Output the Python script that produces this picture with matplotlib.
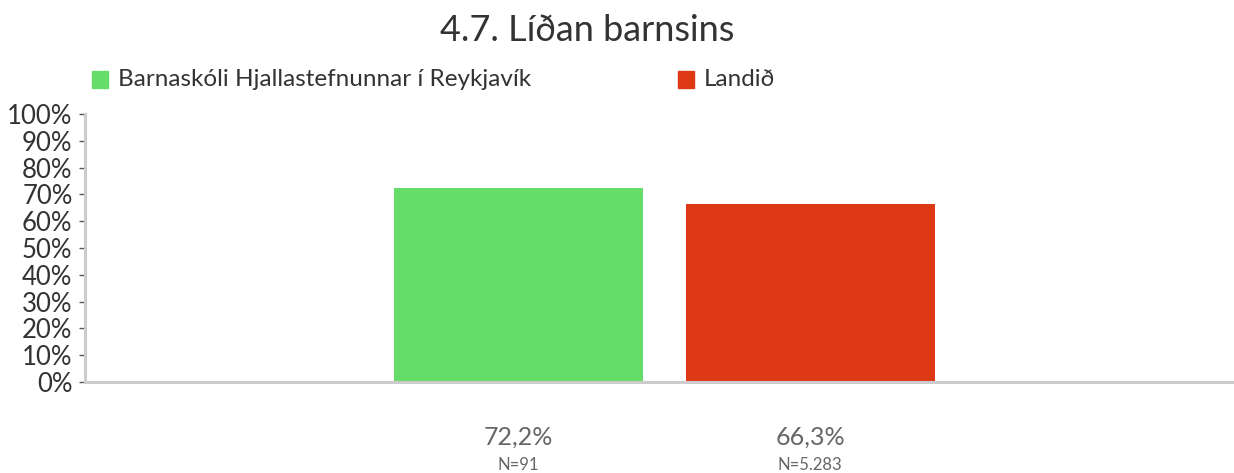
import matplotlib.pyplot as plt

plt.rcParams['font.family'] = ['Lato', 'DejaVu Sans']

# data
series = ['Barnaskóli Hjallastefnunnar í Reykjavík', 'Landið']
values = [72.2, 66.3]
counts = ['N=91', 'N=5.283']
colors = ['#66dc69', '#dd3914']
yticks = [0, 10, 20, 30, 40, 50, 60, 70, 80, 90, 100]

fig = plt.figure(figsize=(12.34, 4.73), dpi=100)
ax = fig.add_axes([0.0689, 0.1924, 0.9303, 0.5666])

pos = [0, 1]
ax.bar(pos, values, width=0.854, color=colors, zorder=2)

ax.set_xlim(-1.487, 2.451)
ax.set_ylim(0, 100)
ax.set_yticks(yticks)
ax.set_yticklabels([f'{t}%' for t in yticks], fontsize=18.5, color='#333333')
ax.tick_params(axis='y', length=4, width=1, color='#555555', pad=5)
ax.set_xticks([])

for s in ['top', 'right']:
    ax.spines[s].set_visible(False)
for s in ['left', 'bottom']:
    ax.spines[s].set_color('#cccccc')
    ax.spines[s].set_linewidth(2.2)

# value and count labels under the bars
for p, v, n in zip(pos, values, counts):
    ax.text(p, -20.5, f'{v:.1f}%'.replace('.', ','), ha='center', va='center',
            fontsize=18, color='#666666', clip_on=False)
    ax.text(p, -30.8, n, ha='center', va='center', fontsize=12,
            color='#666666', clip_on=False)

fig.text(0.476, 0.935, '4.7. Líðan barnsins', ha='center', va='center',
         fontsize=26, color='#333333')

# legend
leg_x = [92, 678]
for x, lab, c in zip(leg_x, series, colors):
    fig.patches.append(plt.Rectangle((x / 1234, 1 - 88 / 473), 16 / 1234, 17 / 473,
                                     transform=fig.transFigure, color=c))
    fig.text((x + 26) / 1234, 1 - 79 / 473, lab, ha='left', va='center',
             fontsize=17.5, color='#333333')

fig.savefig('out.png', dpi=100)
